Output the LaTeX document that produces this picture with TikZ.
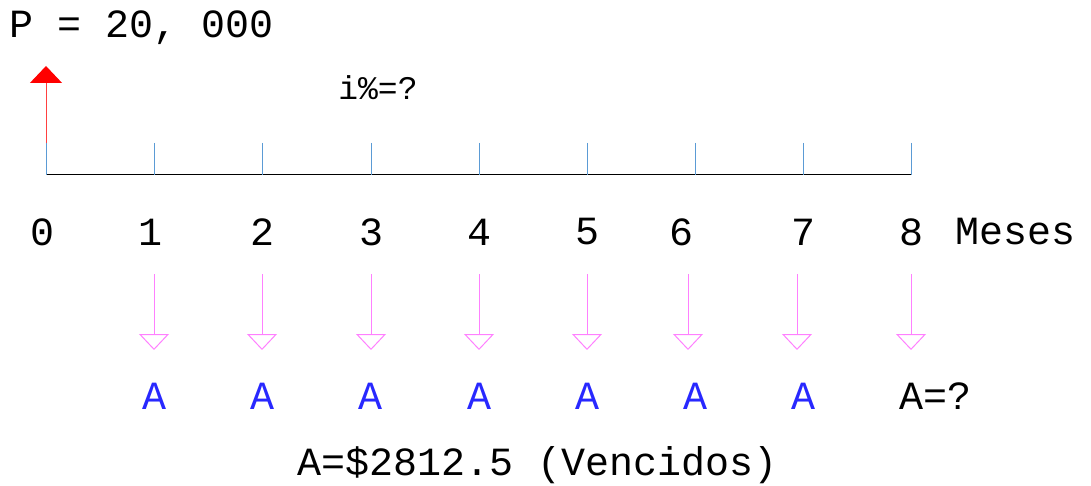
\documentclass[tikz,border=0pt]{standalone}
\usepackage{fontspec}
\newfontfamily\cadfont{Liberation Mono}
\usetikzlibrary{arrows.meta,positioning}

\begin{document}
\begin{tikzpicture}[x=1pt,y=-1pt,line width=1pt,
		axis line/.style={draw=black},
		tick line/.style={draw=tickblue},
		income arrow/.style={draw=red!75, -{Triangle[width=32pt,length=17pt,fill=red,color=red]}},
		payment arrow/.style={draw=paypink, -{Triangle[open,width=30pt,length=16pt]}},
		big text/.style={font=\cadfont\fontsize{40}{40}\selectfont, inner sep=0pt},
		small text/.style={font=\cadfont\fontsize{33}{33}\selectfont, inner sep=0pt},
		pay text/.style={big text, text=payblue}]
	\definecolor{tickblue}{RGB}{91,155,213}
	\definecolor{paypink}{RGB}{255,128,255}
	\definecolor{payblue}{RGB}{40,40,255}
	\useasboundingbox (0,0) rectangle (1091,486);

	% time axis
	\coordinate (a0) at (46,175);
	\coordinate (a8) at (911,175);
	\path (a0) edge[axis line] (a8);

	% ticks
	\coordinate (t0) at (46,143);
	\coordinate (t1) at (154,143);
	\coordinate (t2) at (262,143);
	\coordinate (t3) at (371,143);
	\coordinate (t4) at (479,143);
	\coordinate (t5) at (587,143);
	\coordinate (t6) at (695,143);
	\coordinate (t7) at (803,143);
	\coordinate (t8) at (911,143);
	\path	(t0) edge[tick line] (a0)
		(t1) edge[tick line] (t1 |- a0)
		(t2) edge[tick line] (t2 |- a0)
		(t3) edge[tick line] (t3 |- a0)
		(t4) edge[tick line] (t4 |- a0)
		(t5) edge[tick line] (t5 |- a0)
		(t6) edge[tick line] (t6 |- a0)
		(t7) edge[tick line] (t7 |- a0)
		(t8) edge[tick line] (a8);

	% present value
	\coordinate (p) at (46,66);
	\path (t0) edge[income arrow] (p);
	\node[big text] (pv) at (142,28) {P = 20, 000};
	\node[small text] (rate) at (378,88) {i\%=?};

	% period labels
	\node[big text] (n0) at (43,232) {0};
	\node[big text] (n1) at (150,232) {1};
	\node[big text] (n2) at (262,232) {2};
	\node[big text] (n3) at (371,232) {3};
	\node[big text] (n4) at (479,232) {4};
	\node[big text] (n5) at (587,232) {5};
	\node[big text] (n6) at (681,232) {6};
	\node[big text] (n7) at (803,232) {7};
	\node[big text] (n8) at (911,232) {8};
	\node[big text, anchor=west] (meses) at (955,232) {Meses};

	% payments
	\coordinate (d1) at (154,274);
	\coordinate (d2) at (262,274);
	\coordinate (d3) at (371,274);
	\coordinate (d4) at (479,274);
	\coordinate (d5) at (587,274);
	\coordinate (d6) at (688,274);
	\coordinate (d7) at (797,274);
	\coordinate (d8) at (911,274);
	\coordinate (e1) at (154,350);
	\coordinate (e2) at (262,350);
	\coordinate (e3) at (371,350);
	\coordinate (e4) at (479,350);
	\coordinate (e5) at (587,350);
	\coordinate (e6) at (688,350);
	\coordinate (e7) at (797,350);
	\coordinate (e8) at (911,350);
	\path	(d1) edge[payment arrow] (e1)
		(d2) edge[payment arrow] (e2)
		(d3) edge[payment arrow] (e3)
		(d4) edge[payment arrow] (e4)
		(d5) edge[payment arrow] (e5)
		(d6) edge[payment arrow] (e6)
		(d7) edge[payment arrow] (e7)
		(d8) edge[payment arrow] (e8);

	\node[pay text] (A1) at (154,396) {A};
	\node[pay text] (A2) at (262,396) {A};
	\node[pay text] (A3) at (370,396) {A};
	\node[pay text] (A4) at (479,396) {A};
	\node[pay text] (A5) at (587,396) {A};
	\node[pay text] (A6) at (695,396) {A};
	\node[pay text] (A7) at (803,396) {A};
	\node[big text, anchor=west] (A8) at (899,396) {A=?};

	\node[big text] (total) at (538,465) {A=\$2812.5 (Vencidos)};
\end{tikzpicture}
\end{document}
